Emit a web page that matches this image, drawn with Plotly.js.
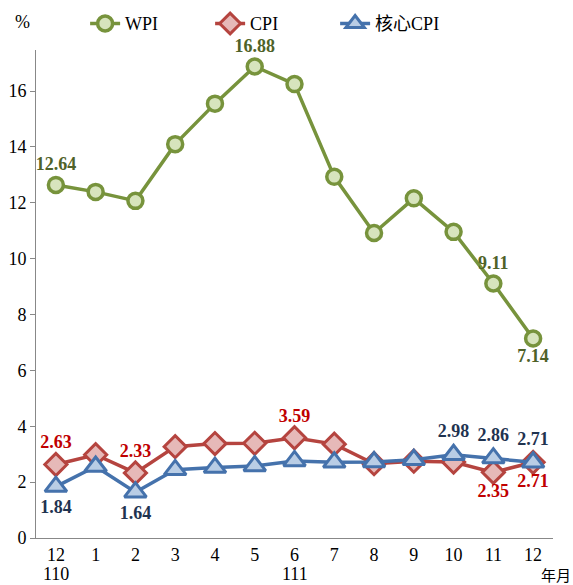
<!DOCTYPE html>
<html><head><meta charset="utf-8">
<script src="https://cdn.plot.ly/plotly-3.0.1.min.js"></script>
<style>html,body{margin:0;padding:0;background:#fff;}#chart{width:573px;height:585px;}</style>
</head><body><div id="chart"></div>
<script>
const monthLabels = ['12','1','2','3','4','5','6','7','8','9','10','11','12'];
const xIndex = [0,1,2,3,4,5,6,7,8,9,10,11,12];
const wpi  = [12.64,12.39,12.07,14.10,15.55,16.88,16.25,12.93,10.92,12.16,10.96,9.11,7.14];
const cpi  = [2.63,2.98,2.33,3.27,3.38,3.39,3.59,3.36,2.66,2.75,2.72,2.35,2.71];
const core = [1.84,2.56,1.64,2.44,2.52,2.58,2.76,2.71,2.72,2.80,2.98,2.86,2.71];
const wpiText  = ['12.64','','','','','16.88','','','','','','9.11','7.14'];
const cpiText  = ['2.63','','2.33','','','','3.59','','','','','2.35','2.71'];
const coreText = ['1.84','','1.64','','','','','','','','2.98','2.86','2.71'];
const wpiPos  = ['top center','top center','top center','top center','top center','top center','top center','top center','top center','top center','top center','top center','bottom center'];
const cpiPos  = ['top center','top center','top center','top center','top center','top center','top center','top center','top center','top center','top center','bottom center','bottom center'];
const corePos = ['bottom center','bottom center','bottom center','top center','top center','top center','top center','top center','top center','top center','top center','top center','top center'];

const serif = 'Liberation Serif, Noto Sans CJK TC, serif';
const traces = [
  {x:xIndex, y:wpi, name:'WPI', mode:'lines+markers+text', text:wpiText, textposition:wpiPos,
   textfont:{family:serif,size:18,color:'#4F6228',weight:700},
   line:{color:'#77933C',width:3.5},
   marker:{symbol:'circle',size:15,color:'#D7E4BD',line:{color:'#77933C',width:3.5}},
   cliponaxis:false},
  {x:xIndex, y:cpi, name:'CPI', mode:'lines+markers+text', text:cpiText, textposition:cpiPos,
   textfont:{family:serif,size:18,color:'#C00000',weight:700},
   line:{color:'#B5443F',width:3.5},
   marker:{symbol:'diamond',size:17,color:'#E6B9B8',line:{color:'#B5443F',width:3}},
   cliponaxis:false},
  {x:xIndex, y:core, name:'核心CPI', mode:'lines+markers+text', text:coreText, textposition:corePos,
   textfont:{family:serif,size:18,color:'#1F3350',weight:700},
   line:{color:'#4572AC',width:3.5},
   marker:{symbol:'triangle-up',size:19,color:'#B9CDE5',line:{color:'#4572AC',width:3}},
   cliponaxis:false}
];
const layout = {
  width:573, height:585,
  margin:{l:36, r:20, t:50, b:47, autoexpand:false},
  paper_bgcolor:'#fff', plot_bgcolor:'#fff',
  font:{family:serif, size:18, color:'#000'},
  showlegend:true,
  legend:{orientation:'h', x:0.095, xanchor:'left', yref:'container', y:0.991, yanchor:'top',
          font:{family:serif,size:18,color:'#000'}, entrywidth:80, bgcolor:'rgba(0,0,0,0)',
          traceorder:'normal'},
  xaxis:{range:[-0.5,12.5], tickvals:xIndex, ticktext:monthLabels, showgrid:false, zeroline:false,
         showline:true, linecolor:'#888', linewidth:1, ticks:'', tickfont:{family:serif,size:18}, fixedrange:true, automargin:false},
  yaxis:{range:[0,17.47], tickvals:[0,2,4,6,8,10,12,14,16], showgrid:false, zeroline:false,
         showline:true, linecolor:'#888', linewidth:1, ticks:'outside', ticklen:5, tickcolor:'#888',
         tickfont:{family:serif,size:18}, fixedrange:true, automargin:false},
  annotations:[
    {text:'%', xref:'paper', yref:'paper', x:-0.027, y:1.057, xanchor:'center', yanchor:'middle', showarrow:false, font:{family:serif,size:18}},
    {text:'110', xref:'x', yref:'paper', x:0, y:-0.074, xanchor:'center', yanchor:'middle', showarrow:false, font:{family:serif,size:18}},
    {text:'111', xref:'x', yref:'paper', x:6, y:-0.074, xanchor:'center', yanchor:'middle', showarrow:false, font:{family:serif,size:18}},
    {text:'年月', xref:'paper', yref:'paper', x:0.972, y:-0.058, xanchor:'left', yanchor:'top', showarrow:false, font:{family:serif,size:15}}
  ]
};
Plotly.newPlot('chart', traces, layout, {displayModeBar:false, staticPlot:true});
</script>
</body></html>
